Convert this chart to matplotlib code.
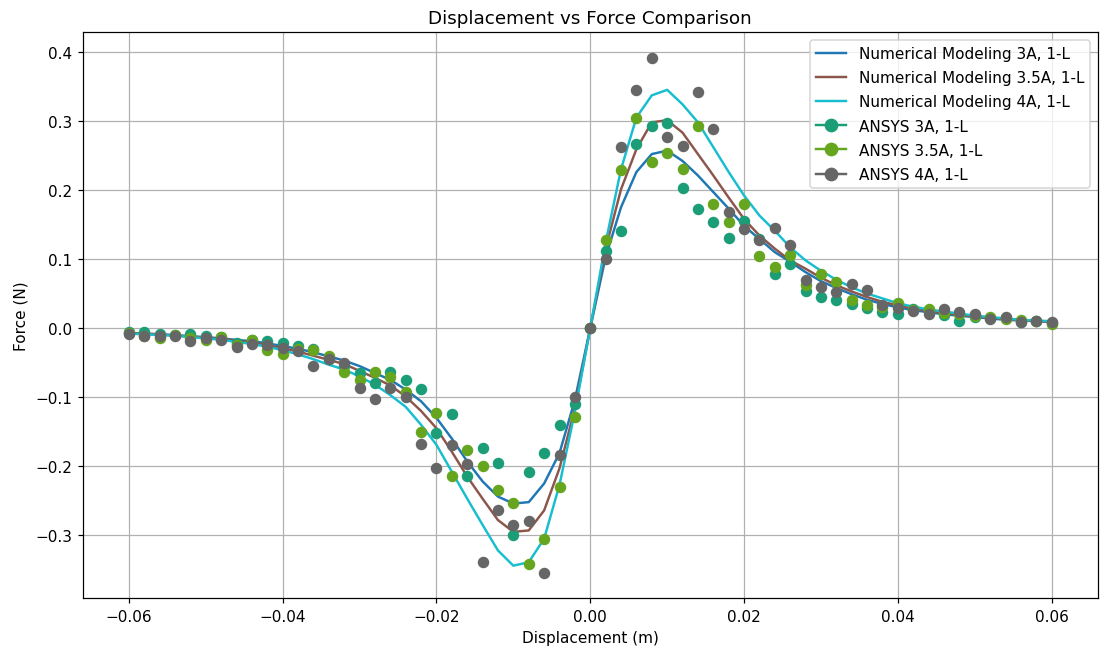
import numpy as np
import matplotlib.pyplot as plt
from matplotlib.lines import Line2D

# displacement grid (m), -0.06 .. 0.06 in 0.002 steps
desloc = np.round(np.arange(-30, 31) * 0.002, 3)

# numerical modeling curves (N)
num_3a = [-0.007, -0.008, -0.009, -0.010, -0.012, -0.013, -0.015, -0.017, -0.019, -0.022,
          -0.026, -0.030, -0.035, -0.041, -0.047, -0.055, -0.065, -0.075, -0.089, -0.106,
          -0.130, -0.160, -0.193, -0.222, -0.244, -0.254, -0.252, -0.225, -0.181, -0.104,
          0.0,
          0.103, 0.175, 0.226, 0.252, 0.257, 0.242, 0.221, 0.197, 0.173, 0.148,
          0.129, 0.110, 0.096, 0.081, 0.068, 0.058, 0.049, 0.041, 0.035, 0.030,
          0.026, 0.023, 0.020, 0.018, 0.016, 0.014, 0.012, 0.011, 0.010, 0.009]
num_35a = [-0.007, -0.008, -0.009, -0.011, -0.012, -0.014, -0.016, -0.018, -0.021, -0.025,
           -0.029, -0.034, -0.040, -0.046, -0.052, -0.062, -0.072, -0.083, -0.099, -0.120,
           -0.145, -0.179, -0.215, -0.247, -0.278, -0.295, -0.293, -0.264, -0.203, -0.116,
           0.0,
           0.115, 0.201, 0.259, 0.298, 0.301, 0.283, 0.252, 0.221, 0.189, 0.158,
           0.134, 0.115, 0.098, 0.086, 0.073, 0.062, 0.053, 0.045, 0.038, 0.033,
           0.028, 0.025, 0.022, 0.019, 0.017, 0.015, 0.013, 0.012, 0.010, 0.009]
num_4a = [-0.008, -0.009, -0.010, -0.011, -0.013, -0.015, -0.017, -0.020, -0.023, -0.027,
          -0.032, -0.038, -0.045, -0.053, -0.060, -0.070, -0.082, -0.097, -0.114, -0.140,
          -0.169, -0.208, -0.247, -0.285, -0.322, -0.344, -0.339, -0.305, -0.227, -0.121,
          0.0,
          0.124, 0.230, 0.305, 0.337, 0.345, 0.324, 0.298, 0.262, 0.226, 0.192,
          0.163, 0.141, 0.117, 0.098, 0.083, 0.070, 0.059, 0.050, 0.043, 0.036,
          0.031, 0.027, 0.024, 0.021, 0.018, 0.016, 0.014, 0.012, 0.011, 0.010]

# ANSYS results (N)
ansys_3a = [-0.006, -0.006, -0.008, -0.010, -0.009, -0.011, -0.013, -0.022, -0.017, -0.019,
            -0.022, -0.026, -0.030, -0.045, -0.055, -0.065, -0.079, -0.063, -0.075, -0.088,
            -0.152, -0.124, -0.214, -0.174, -0.196, -0.299, -0.209, -0.181, -0.140, -0.110,
            0.0,
            0.111, 0.140, 0.267, 0.292, 0.297, 0.203, 0.173, 0.153, 0.130, 0.155,
            0.129, 0.079, 0.093, 0.054, 0.045, 0.040, 0.035, 0.029, 0.024, 0.020,
            0.028, 0.025, 0.019, 0.011, 0.016, 0.014, 0.014, 0.009, 0.010, 0.007]
ansys_35a = [-0.007, -0.011, -0.014, -0.010, -0.015, -0.017, -0.013, -0.025, -0.017, -0.031,
             -0.037, -0.030, -0.032, -0.040, -0.063, -0.075, -0.064, -0.071, -0.092, -0.151,
             -0.123, -0.214, -0.177, -0.200, -0.234, -0.253, -0.341, -0.305, -0.230, -0.128,
             0.0,
             0.127, 0.229, 0.304, 0.241, 0.254, 0.230, 0.293, 0.179, 0.154, 0.179,
             0.104, 0.088, 0.106, 0.063, 0.078, 0.067, 0.040, 0.033, 0.030, 0.037,
             0.026, 0.028, 0.022, 0.020, 0.018, 0.016, 0.013, 0.012, 0.011, 0.006]
ansys_4a = [-0.008, -0.011, -0.011, -0.011, -0.019, -0.015, -0.017, -0.027, -0.023, -0.025,
            -0.029, -0.033, -0.055, -0.045, -0.051, -0.086, -0.103, -0.087, -0.100, -0.168,
            -0.203, -0.169, -0.197, -0.338, -0.264, -0.285, -0.280, -0.354, -0.184, -0.100,
            0.0,
            0.100, 0.262, 0.345, 0.391, 0.277, 0.264, 0.342, 0.289, 0.168, 0.143,
            0.127, 0.145, 0.120, 0.070, 0.060, 0.052, 0.064, 0.055, 0.034, 0.029,
            0.025, 0.020, 0.027, 0.024, 0.020, 0.013, 0.016, 0.009, 0.010, 0.009]

cor_num = ['#1f77b4', '#8c564b', '#17becf']
cor_ansys = ['#1b9e77', '#66a61e', '#666666']

fig, ax = plt.subplots(figsize=(10, 5.918), dpi=110)
fig.subplots_adjust(left=0.0752, right=0.998, top=0.9488, bottom=0.0794)

ax.plot(desloc, num_3a, color=cor_num[0], lw=1.6)
ax.plot(desloc, num_35a, color=cor_num[1], lw=1.6)
ax.plot(desloc, num_4a, color=cor_num[2], lw=1.6)

ax.plot(desloc, ansys_3a, 'o', color=cor_ansys[0], ms=6.5)
ax.plot(desloc, ansys_35a, 'o', color=cor_ansys[1], ms=6.5)
ax.plot(desloc, ansys_4a, 'o', color=cor_ansys[2], ms=6.5)

handles = [
    Line2D([], [], color=cor_num[0], lw=1.6, label='Numerical Modeling 3A, 1-L'),
    Line2D([], [], color=cor_num[1], lw=1.6, label='Numerical Modeling 3.5A, 1-L'),
    Line2D([], [], color=cor_num[2], lw=1.6, label='Numerical Modeling 4A, 1-L'),
    Line2D([], [], color=cor_ansys[0], lw=1.6, marker='o', ms=8, label='ANSYS 3A, 1-L'),
    Line2D([], [], color=cor_ansys[1], lw=1.6, marker='o', ms=8, label='ANSYS 3.5A, 1-L'),
    Line2D([], [], color=cor_ansys[2], lw=1.6, marker='o', ms=8, label='ANSYS 4A, 1-L'),
]
ax.legend(handles=handles, loc='upper right', labelspacing=0.6)

ax.set_title('Displacement vs Force Comparison')
ax.set_xlabel('Displacement (m)')
ax.set_ylabel('Force (N)')
ax.grid(True)

plt.savefig('out.png')
